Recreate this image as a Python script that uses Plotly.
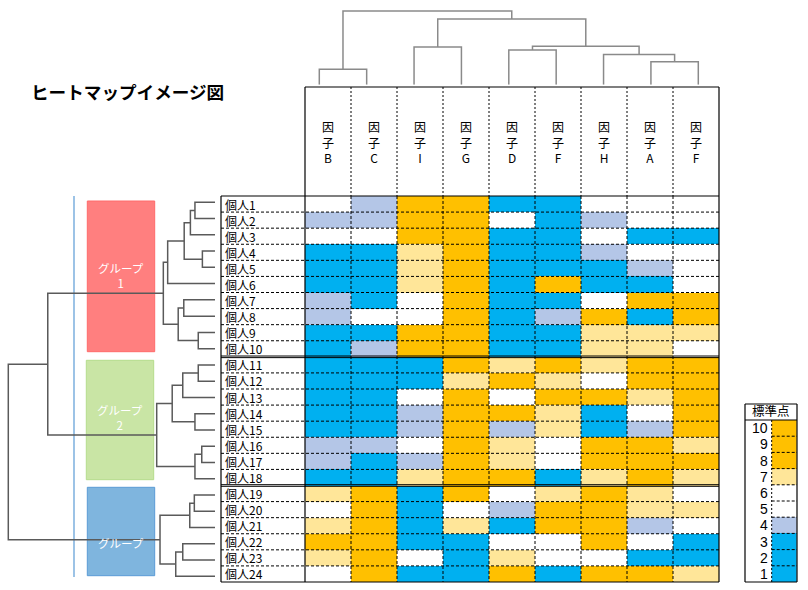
import plotly.graph_objects as go

# ---------------- data ----------------
COLUMNS = ["B", "C", "I", "G", "D", "F", "H", "A", "F"]
INDIVIDUALS = ["個人%d" % i for i in range(1, 25)]
# standard scores (1-10) per individual (rows) and factor (columns)
SCORES = [
    [5, 4, 9, 9, 2, 2, 5, 5, 5],
    [4, 4, 9, 9, 5, 2, 4, 5, 5],
    [5, 5, 9, 9, 2, 2, 5, 2, 2],
    [2, 2, 7, 9, 2, 2, 4, 5, 5],
    [2, 2, 7, 9, 2, 2, 2, 4, 5],
    [2, 2, 7, 9, 2, 9, 2, 2, 5],
    [4, 2, 5, 9, 2, 2, 5, 9, 9],
    [4, 5, 5, 9, 2, 4, 9, 2, 9],
    [2, 2, 9, 9, 2, 2, 7, 7, 7],
    [2, 4, 9, 9, 2, 2, 7, 7, 5],
    [2, 2, 2, 9, 7, 9, 7, 9, 9],
    [2, 2, 2, 7, 9, 7, 5, 9, 9],
    [2, 2, 5, 9, 5, 9, 9, 7, 9],
    [2, 2, 4, 9, 9, 7, 2, 5, 9],
    [2, 2, 4, 9, 4, 7, 2, 4, 9],
    [4, 4, 5, 9, 7, 5, 9, 9, 7],
    [4, 2, 4, 9, 7, 5, 9, 9, 9],
    [2, 2, 7, 9, 9, 2, 7, 9, 7],
    [7, 9, 2, 9, 5, 7, 9, 7, 5],
    [5, 9, 2, 5, 4, 9, 9, 7, 7],
    [7, 9, 2, 7, 2, 9, 9, 4, 5],
    [9, 9, 2, 2, 5, 5, 9, 5, 2],
    [7, 9, 5, 2, 7, 5, 5, 2, 2],
    [5, 9, 2, 2, 9, 2, 9, 9, 7],
]
LEGEND_LEVELS = [10, 9, 8, 7, 6, 5, 4, 3, 2, 1]
GROUP_LABELS = ["グループ<br>1", "グループ<br>2", "グループ"]
GROUP_BOUNDARIES = [10, 18]  # rows after which a new group starts

# hierarchical clustering (left id, right id, distance); leaves in display order
COL_LINKAGE = [
    (0, 1, 2.1), (2, 3, 5.1), (4, 5, 4.7), (7, 8, 3.1),
    (6, 12, 4.1), (11, 13, 5.2), (10, 14, 8.9), (9, 15, 10.0),
]
ROW_LINKAGE = [
    (0, 1, 0.97), (24, 2, 1.19), (3, 4, 0.61), (25, 26, 1.49), (27, 5, 2.29),
    (6, 7, 1.51), (8, 9, 0.81), (29, 30, 1.78), (28, 31, 2.50),
    (10, 11, 0.81), (33, 12, 1.56), (13, 14, 0.97), (34, 35, 2.07),
    (15, 16, 0.64), (37, 17, 0.97), (36, 38, 2.82),
    (18, 19, 1.00), (40, 20, 1.22), (21, 22, 1.56), (42, 23, 1.90), (41, 43, 2.66),
    (32, 39, 8.09), (45, 44, 10.0),
]

# ---------------- styling / layout ----------------
W, H = 808, 590
FONT = "Noto Sans CJK JP"
NUM_FONT = "Liberation Sans Narrow, Liberation Sans, Noto Sans CJK JP"
ORANGE, LYELLOW, WHITE, LBLUE, CYAN = "#FFC000", "#FFE699", "#FFFFFF", "#B4C6E7", "#00B0F0"
LEVEL_COLOR = {1: CYAN, 2: CYAN, 3: CYAN, 4: LBLUE, 5: WHITE, 6: WHITE,
               7: LYELLOW, 8: ORANGE, 9: ORANGE, 10: ORANGE}
colorscale = []
for k in range(1, 11):
    colorscale.append([(k - 1) / 10, LEVEL_COLOR[k]])
    colorscale.append([k / 10, LEVEL_COLOR[k]])


def fx(p):
    return p / W


def fy(p):
    return 1 - p / H


PAD = 3
# table
TAB_LEFT, HM_LEFT, HM_RIGHT = 221, 305, 719
HDR_TOP, HM_TOP, HM_BOTTOM = 87, 196, 582
NC, NR = len(COLUMNS), len(INDIVIDUALS)
CW = (HM_RIGHT - HM_LEFT) / NC
RH = (HM_BOTTOM - HM_TOP) / NR
XL = -0.5 - (HM_LEFT - TAB_LEFT) / CW
YH = -0.5 - (HM_TOP - HDR_TOP) / RH
# column dendrogram
CD_LEAF0, CD_LEAFN, CD_BASE, CD_TOP = 319.3, 698.3, 84.7, 11.0
CD_LS = (CD_LEAFN - CD_LEAF0) / (NC - 1)
CD_UNIT = (CD_BASE - CD_TOP) / 10.0
CD_MAX = 10.4
# row dendrogram
RD_BASE, RD_TOP, RD_LEAF0, RD_LEAFN = 215.0, 8.3, 202.3, 576.3
RD_UNIT = (RD_BASE - RD_TOP) / 10.0
RD_MAX = 10.3
RD_LS = (RD_LEAFN - RD_LEAF0) / (NR - 1)
# legend
LG_LEFT, LG_MID, LG_RIGHT, LG_TOP, LG_HDR, LG_BOTTOM = 745, 771.7, 797, 404, 420, 582
LCW = LG_RIGHT - LG_MID
LRH = (LG_BOTTOM - LG_HDR) / len(LEGEND_LEVELS)
LXL = -0.5 - (LG_MID - LG_LEFT) / LCW
LYH = -0.5 - (LG_HDR - LG_TOP) / LRH


def dendro(links, n):
    pos = {i: (float(i), 0.0) for i in range(n)}
    xs, ys = [], []
    for k, (a, b, h) in enumerate(links):
        xa, ha = pos[a]
        xb, hb = pos[b]
        xs += [xa, xa, xb, xb, None]
        ys += [ha, h, h, hb, None]
        pos[n + k] = ((xa + xb) / 2, h)
    return xs, ys


fig = go.Figure()

fig.add_trace(go.Heatmap(
    z=SCORES, x=list(range(NC)), y=list(range(NR)),
    colorscale=colorscale, zmin=0.5, zmax=10.5, showscale=False,
    hoverinfo="skip", xaxis="x", yaxis="y"))

cx, cy = dendro(COL_LINKAGE, NC)
fig.add_trace(go.Scatter(x=cx, y=cy, mode="lines", xaxis="x2", yaxis="y2",
                         line=dict(color="#8a8a8a", width=1.5), hoverinfo="skip",
                         showlegend=False))
rx, ry = dendro(ROW_LINKAGE, NR)
fig.add_trace(go.Scatter(x=ry, y=rx, mode="lines", xaxis="x3", yaxis="y3",
                         line=dict(color="#5a5a5a", width=1.5), hoverinfo="skip",
                         showlegend=False))

fig.add_trace(go.Heatmap(
    z=[[v] for v in LEGEND_LEVELS], x=[0], y=list(range(len(LEGEND_LEVELS))),
    colorscale=colorscale, zmin=0.5, zmax=10.5, showscale=False,
    hoverinfo="skip", xaxis="x4", yaxis="y4"))

shapes = []


def line(xref, yref, x0, y0, x1, y1, dash="solid", width=1, color="black", layer="above"):
    shapes.append(dict(type="line", xref=xref, yref=yref, x0=x0, y0=y0, x1=x1, y1=y1,
                       layer=layer, line=dict(color=color, width=width, dash=dash)))


DASH = "3px,2px"
# table grid
for i in range(1, NR):
    if i in GROUP_BOUNDARIES:
        off = 0.8 / RH
        line("x", "y", XL, i - 0.5 - off, 8.5, i - 0.5 - off, width=1)
        line("x", "y", XL, i - 0.5 + off, 8.5, i - 0.5 + off, width=1)
    else:
        line("x", "y", XL, i - 0.5, 8.5, i - 0.5, dash=DASH)
for j in range(1, NC):
    line("x", "y", j - 0.5, YH, j - 0.5, -0.5, dash="2px,2px")
    line("x", "y", j - 0.5, -0.5, j - 0.5, NR - 0.5, dash=DASH)
line("x", "y", -0.5, YH, -0.5, NR - 0.5, width=1.2)
line("x", "y", NC - 0.5, YH, NC - 0.5, NR - 0.5, width=1.2)
line("x", "y", -0.5, YH, NC - 0.5, YH, width=1.2)
line("x", "y", XL, -0.5, NC - 0.5, -0.5, width=1.2)
line("x", "y", XL, NR - 0.5, NC - 0.5, NR - 0.5, width=1.2)
line("x", "y", XL, -0.5, XL, NR - 0.5, width=1.2)

# legend grid
for k in range(1, len(LEGEND_LEVELS)):
    line("x4", "y4", -0.5, k - 0.5, 0.5, k - 0.5, dash=DASH)
line("x4", "y4", -0.5, -0.5, -0.5, len(LEGEND_LEVELS) - 0.5, dash="2px,2px")
line("x4", "y4", LXL, -0.5, 0.5, -0.5, width=1.2)
for (a, b, c, d) in [(LXL, LYH, 0.5, LYH), (LXL, 9.5, 0.5, 9.5),
                     (LXL, LYH, LXL, 9.5), (0.5, LYH, 0.5, 9.5)]:
    line("x4", "y4", a, b, c, d, width=1.2)

# group boxes (decoration)
GROUP_BOXES = [
    (87.3, 201.0, 154.7, 351.7, "#FF7F7F", "#FF6B6B"),
    (86.3, 360.3, 153.7, 479.7, "#C9E5A5", "#B5DC8C"),
    (87.3, 487.3, 154.7, 575.7, "#7FB5DE", "#5B9BD5"),
]
for (x0, y0, x1, y1, fc, lc) in GROUP_BOXES:
    shapes.append(dict(type="rect", xref="paper", yref="paper",
                       x0=fx(x0), x1=fx(x1), y0=fy(y1), y1=fy(y0),
                       fillcolor=fc, line=dict(color=lc, width=1), layer="below"))
line("paper", "paper", fx(74), fy(196), fx(74), fy(577), color="#5B9BD5", width=1.2, layer="below")

annotations = []
for i, name in enumerate(INDIVIDUALS):
    annotations.append(dict(xref="x", yref="y", x=XL + 1.5 / CW, y=i, text=name,
                            xanchor="left", yanchor="middle", showarrow=False,
                            font=dict(family=FONT, size=12, color="black")))
for j, c in enumerate(COLUMNS):
    annotations.append(dict(xref="x", yref="y", x=j, y=(YH - 0.5) / 2,
                            text="因<br>子<br>" + c, xanchor="center", yanchor="middle",
                            showarrow=False, font=dict(family=FONT, size=12, color="black")))
annotations.append(dict(xref="x4", yref="y4", x=(LXL + 0.5) / 2, y=(LYH - 0.5) / 2,
                        text="標準点", showarrow=False, xanchor="center", yanchor="middle",
                        yshift=1.5, font=dict(family=FONT, size=12.5, color="black")))
for k, v in enumerate(LEGEND_LEVELS):
    annotations.append(dict(xref="x4", yref="y4", x=-0.5 - 2 / LCW, y=k, text=str(v),
                            xanchor="right", yanchor="middle", showarrow=False,
                            font=dict(family=NUM_FONT, size=14, color="black")))
annotations.append(dict(xref="paper", yref="paper", x=fx(29), y=fy(91),
                        text="<b>ヒートマップイメージ図</b>", xanchor="left", yanchor="middle",
                        showarrow=False, font=dict(family=FONT, size=17.6, color="black")))
GROUP_TEXT_POS = [(121, 275), (120, 417), (121, 543)]
for (gx, gy), t in zip(GROUP_TEXT_POS, GROUP_LABELS):
    annotations.append(dict(xref="paper", yref="paper", x=fx(gx), y=fy(gy), text=t,
                            xanchor="center", yanchor="middle", showarrow=False,
                            font=dict(family=FONT, size=11.5, color="white")))

ax = dict(visible=False, showgrid=False, zeroline=False, fixedrange=True)
fig.update_layout(
    width=W, height=H, autosize=False,
    margin=dict(l=0, r=0, t=0, b=0, pad=0),
    paper_bgcolor="white", plot_bgcolor="rgba(0,0,0,0)",
    showlegend=False,
    xaxis=dict(ax, domain=[fx(TAB_LEFT - PAD), fx(HM_RIGHT + PAD)],
               range=[XL - PAD / CW, NC - 0.5 + PAD / CW], anchor="y"),
    yaxis=dict(ax, domain=[fy(HM_BOTTOM + PAD), fy(HDR_TOP - PAD)],
               range=[NR - 0.5 + PAD / RH, YH - PAD / RH], anchor="x"),
    xaxis2=dict(ax, domain=[fx(CD_LEAF0 - 0.5 * CD_LS), fx(CD_LEAFN + 0.5 * CD_LS)],
                range=[-0.5, NC - 0.5], anchor="y2"),
    yaxis2=dict(ax, domain=[fy(CD_BASE), fy(CD_BASE - CD_MAX * CD_UNIT)],
                range=[0, CD_MAX], anchor="x2"),
    xaxis3=dict(ax, domain=[fx(RD_BASE - RD_MAX * RD_UNIT), fx(RD_BASE + 2)],
                range=[RD_MAX, -2 / RD_UNIT], anchor="y3"),
    yaxis3=dict(ax, domain=[fy(RD_LEAFN + 0.5 * RD_LS), fy(RD_LEAF0 - 0.5 * RD_LS)],
                range=[NR - 0.5, -0.5], anchor="x3"),
    xaxis4=dict(ax, domain=[fx(LG_LEFT - PAD), fx(LG_RIGHT + PAD)],
                range=[LXL - PAD / LCW, 0.5 + PAD / LCW], anchor="y4"),
    yaxis4=dict(ax, domain=[fy(LG_BOTTOM + PAD), fy(LG_TOP - PAD)],
                range=[len(LEGEND_LEVELS) - 0.5 + PAD / LRH, LYH - PAD / LRH], anchor="x4"),
    shapes=shapes,
    annotations=annotations,
)

# remove the page's default body margin so the 808x590 figure fills the window exactly
fig.write_html("out.html", config={"displayModeBar": False},
               post_script="document.body.style.margin='0px';document.body.style.overflow='hidden';")
